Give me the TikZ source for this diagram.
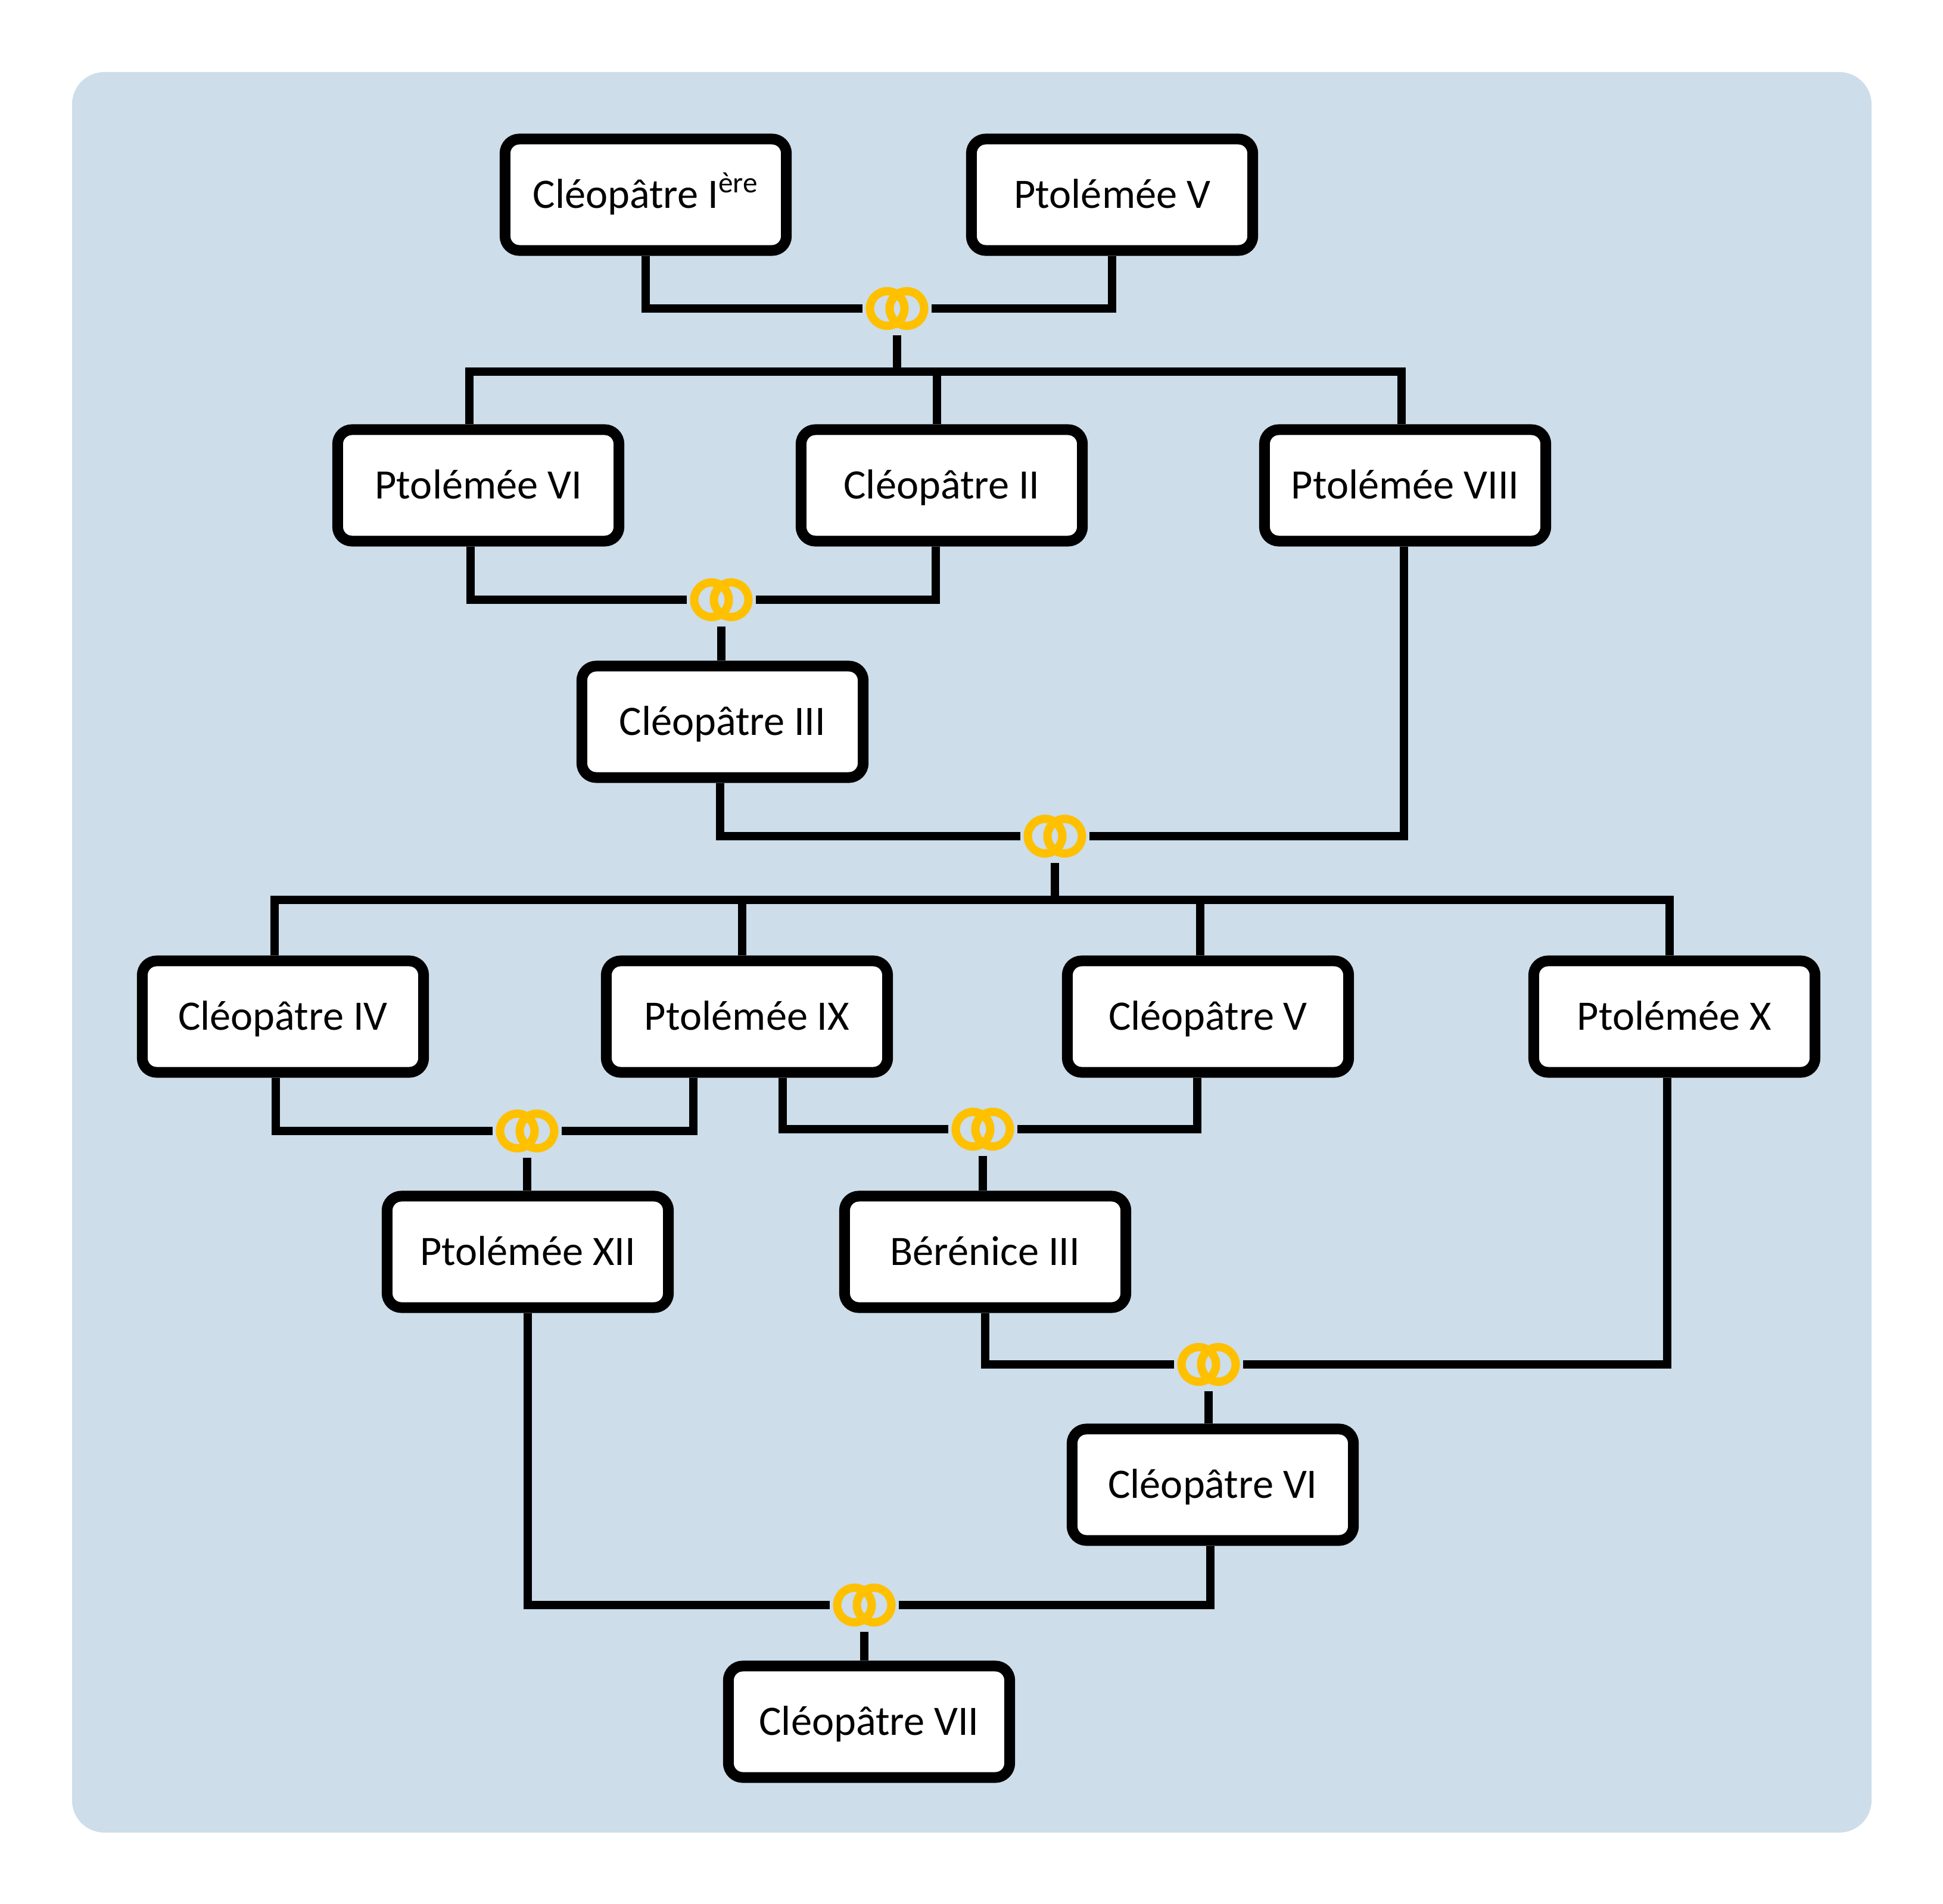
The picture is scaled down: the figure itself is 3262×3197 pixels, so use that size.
\documentclass[tikz,border=0pt]{standalone}
\usepackage{fontspec}
\setmainfont{Carlito}
\definecolor{bgblue}{RGB}{205,221,233}
\definecolor{gold}{RGB}{255,192,0}
\begin{document}
\begin{tikzpicture}[x=0.01cm,y=-0.01cm,
  person/.style={draw=black, line width=1.8mm, fill=white, rounded corners=2.4mm,
    minimum width=47.2mm, minimum height=18.7mm, inner sep=0pt,
    font=\fontsize{20}{24}\selectfont, text height=18pt, text depth=5.1pt},
  ringnode/.style={minimum width=11.5mm, minimum height=9mm, inner sep=0pt, outer sep=0pt,
    path picture={\draw[gold, line width=1.4mm]
      ([xshift=-1.65mm]path picture bounding box.center) circle[radius=2.9mm]
      ([xshift=1.65mm]path picture bounding box.center) circle[radius=2.9mm];}},
  conn/.style={draw=black, line width=1.4mm}]
\useasboundingbox (0,0) rectangle (3262,3197);
\fill[bgblue, rounded corners=5.4mm] (121,121) rectangle (3142,3077);

% people
\node[person] (cI)    at (1084,327)  {Cléopâtre I\textsuperscript{ère}};
\node[person] (pV)    at (1867,327)  {Ptolémée V};
\node[person] (pVI)   at (803,815)   {Ptolémée VI};
\node[person] (cII)   at (1581,815)  {Cléopâtre II};
\node[person] (pVIII) at (2359,815)  {Ptolémée VIII};
\node[person] (cIII)  at (1213,1212) {Cléopâtre III};
\node[person] (cIV)   at (475,1707)  {Cléopâtre IV};
\node[person] (pIX)   at (1254,1707) {Ptolémée IX};
\node[person] (cV)    at (2028,1707) {Cléopâtre V};
\node[person] (pX)    at (2811,1707) {Ptolémée X};
\node[person] (pXII)  at (886,2102)  {Ptolémée XII};
\node[person] (bIII)  at (1654,2102) {Bérénice III};
\node[person] (cVI)   at (2036,2493) {Cléopâtre VI};
\node[person] (cVII)  at (1459,2891) {Cléopâtre VII};

% marriages
\node[ringnode] (r1) at (1506,518)  {};
\node[ringnode] (r2) at (1211,1007) {};
\node[ringnode] (r3) at (1771,1404) {};
\node[ringnode] (r4) at (885,1899)  {};
\node[ringnode] (r5) at (1650,1896) {};
\node[ringnode] (r6) at (2029,2291) {};
\node[ringnode] (r7) at (1451,2695) {};

\coordinate (j1) at (1506,624);
\coordinate (j2) at (1771,1511);

% generation 1
\draw[conn] (cI.south) |- (r1.west);
\draw[conn] (pV.south) |- (r1.east);
\draw[conn] (r1.south) -- (j1);
\draw[conn] ([xshift=-1.5mm]pVI.north) |- (j1) -| ([xshift=-0.6mm]pVIII.north);
\draw[conn] ([xshift=-0.8mm]cII.north) -- ([xshift=-0.8mm]cII.north |- j1);

% generation 2
\draw[conn] ([xshift=-1.3mm]pVI.south) |- (r2.west);
\draw[conn] ([xshift=-1mm]cII.south) |- (r2.east);
\draw[conn] (r2.south) -- (r2.south |- cIII.north);

% generation 3
\draw[conn] ([xshift=-0.4mm]cIII.south) |- (r3.west);
\draw[conn] ([xshift=-0.2mm]pVIII.south) |- (r3.east);
\draw[conn] (r3.south) -- (j2);
\draw[conn] ([xshift=-1.4mm]cIV.north) |- (j2) -| ([xshift=-0.8mm]pX.north);
\draw[conn] ([xshift=-0.8mm]pIX.north) -- ([xshift=-0.8mm]pIX.north |- j2);
\draw[conn] ([xshift=-1.3mm]cV.north) -- ([xshift=-1.3mm]cV.north |- j2);

% generation 4
\draw[conn] ([xshift=-1.2mm]cIV.south) |- (r4.west);
\draw[conn] ([xshift=-9mm]pIX.south) |- (r4.east);
\draw[conn] ([xshift=6mm]pIX.south) |- (r5.west);
\draw[conn] ([xshift=-1.8mm]cV.south) |- (r5.east);
\draw[conn] (r4.south) -- (r4.south |- pXII.north);
\draw[conn] (r5.south) -- (r5.south |- bIII.north);

% generation 5
\draw[conn] (bIII.south) |- (r6.west);
\draw[conn] ([xshift=-1.2mm]pX.south) |- (r6.east);
\draw[conn] (r6.south) -- (r6.south |- cVI.north);

% generation 6
\draw[conn] (pXII.south) |- (r7.west);
\draw[conn] ([xshift=-0.4mm]cVI.south) |- (r7.east);
\draw[conn] (r7.south) -- (r7.south |- cVII.north);
\end{tikzpicture}
\end{document}
